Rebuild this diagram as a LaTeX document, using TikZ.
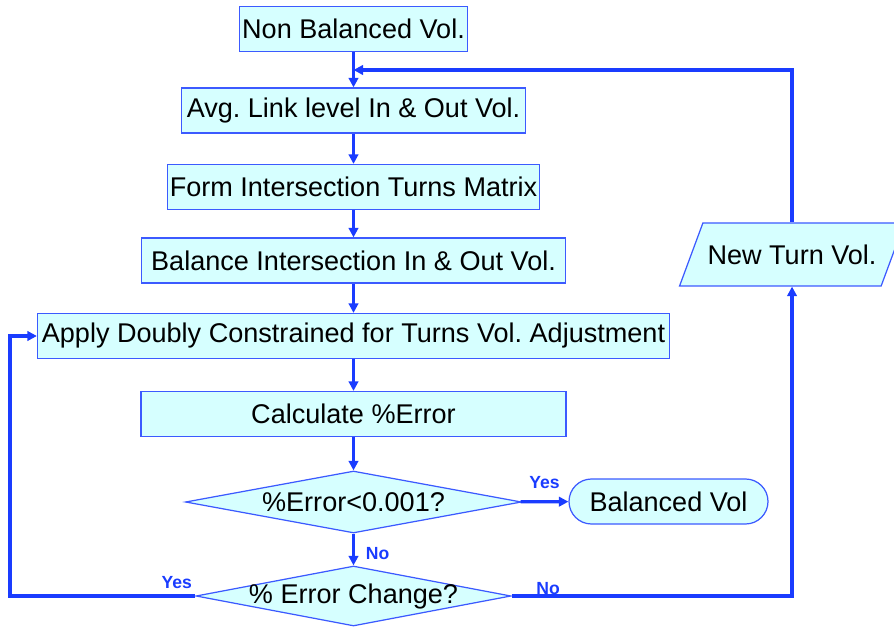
\documentclass[tikz,border=0pt]{standalone}
\usepackage{fontspec}
\setmainfont{Liberation Sans}
\usetikzlibrary{shapes,arrows.meta}
\definecolor{flowblue}{RGB}{26,60,255}
\definecolor{edgeblue}{RGB}{60,90,255}
\definecolor{boxfill}{RGB}{214,255,255}
\frenchspacing
\tikzset{
  boxtext/.style={font=\fontsize{15.4}{18}\selectfont},
  stepbox/.style={boxtext, rectangle, draw=edgeblue, line width=0.7pt, fill=boxfill, minimum height=0.9cm, inner xsep=0.05cm},
  decision/.style={boxtext, diamond, aspect=5.3, draw=edgeblue, line width=0.7pt, fill=boxfill, inner xsep=-0.3cm, inner ysep=0pt},
  terminal/.style={boxtext, rectangle, rounded corners=0.45cm, draw=edgeblue, line width=0.7pt, fill=boxfill, minimum height=0.9cm},
  iobox/.style={boxtext, trapezium, trapezium left angle=55, trapezium right angle=125, trapezium stretches=true, draw=edgeblue, line width=0.7pt, fill=boxfill, inner xsep=0pt},
  flow/.style={draw=flowblue, line width=1.8pt, -{Triangle[length=1.9mm,width=1.9mm]}},
  answer/.style={text=flowblue, font=\bfseries\fontsize{10}{12}\selectfont}
}
\begin{document}
\begin{tikzpicture}
        \def\Cx{7.07 } % Main column
        \def\Rx{15.84} % Return column
        \def\Lx{0.2  } % Left return column

        \useasboundingbox (0,0) rectangle (17.88,-12.54);

        % Main column
        \node[stepbox, minimum width=4.54cm]  (nonbal)  at (\Cx, -0.58) {Non Balanced Vol.};
        \node[stepbox, minimum width=6.88cm]  (avglink) at (\Cx, -2.21) {Avg. Link level In \& Out Vol.};
        \node[stepbox, minimum width=7.42cm]  (formint) at (\Cx, -3.74) {Form Intersection Turns Matrix};
        \node[stepbox, minimum width=8.48cm]  (balint)  at (\Cx, -5.21) {Balance Intersection In \& Out Vol.};
        \node[stepbox, minimum width=12.64cm] (applydc) at (\Cx, -6.72) {Apply Doubly Constrained for Turns Vol. Adjustment};
        \node[stepbox, minimum width=8.5cm]   (calcerr) at (\Cx, -8.28) {Calculate \%Error};
        \node[decision, minimum width=6.72cm, minimum height=1.24cm] (chkerr) at (\Cx, -10.04) {\%Error<0.001?};
        \node[decision, minimum width=6.3cm, minimum height=1.2cm]   (chkchg) at (\Cx, -11.92) {\% Error Change?};

        % Side nodes
        \node[terminal, minimum width=3.98cm] (balvol)  at (13.37, -10.03) {Balanced Vol};
        \node[iobox, minimum width=4.5cm, minimum height=1.26cm] (newturn) at (\Rx, -5.09) {New Turn Vol.};

        \coordinate (jointop)  at (\Cx, -1.4);
        \coordinate (leftturn) at (\Lx, -11.92);

        % Connectors
        \draw[flow] (nonbal)  -- (avglink);
        \draw[flow] (avglink) -- (formint);
        \draw[flow] (formint) -- (balint);
        \draw[flow] (balint)  -- (applydc);
        \draw[flow] (applydc) -- (calcerr);
        \draw[flow] (calcerr) -- (chkerr);
        \draw[flow] (chkerr)  -- node[answer, above=0.12cm] {Yes} (balvol);
        \draw[flow] (chkerr)  -- node[answer, right=0.1cm, yshift=-0.08cm] {No} (chkchg);
        \draw[flow] (chkchg.east) -| node[answer, above, pos=0.065, inner sep=0pt] {No} (newturn.south);
        \draw[flow] (newturn.north) |- (jointop);
        \draw[flow] (chkchg.west) -- node[answer, above, pos=0.1] {Yes} (leftturn) |- (applydc.west);
\end{tikzpicture}
\end{document}
